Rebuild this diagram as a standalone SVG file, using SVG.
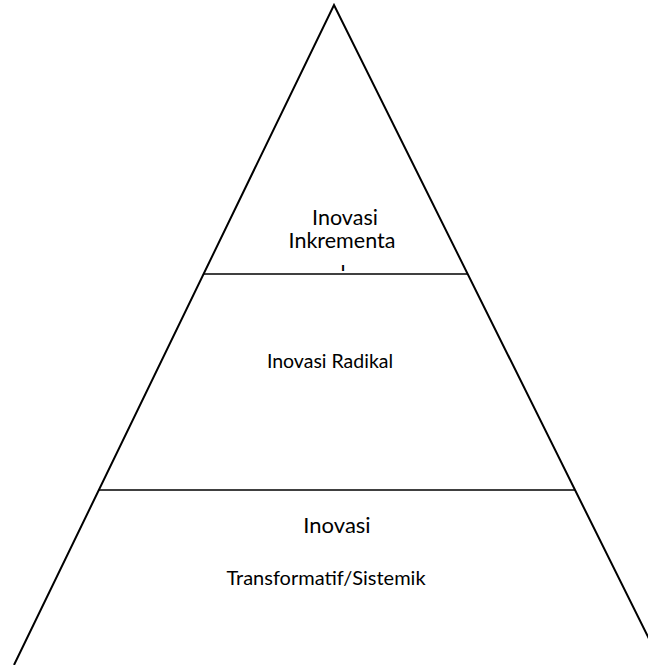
<svg xmlns="http://www.w3.org/2000/svg" width="648" height="665" viewBox="0 0 648 665">
<defs>
<style>
.edge{stroke:#000;fill:none;stroke-width:2}
.div{stroke:#000;stroke-width:1.5}
.t{font-family:Lato,"Open Sans","Liberation Sans",sans-serif;fill:#000;text-anchor:middle}
</style>
<clipPath id="clipL"><rect x="300" y="256" width="100" height="15"/></clipPath>
</defs>
<rect width="648" height="665" fill="#fff"/>
<g id="connectors">
<polyline class="edge" points="14,665 334,5 662,665"/>
<line class="div" x1="203.5" y1="274" x2="467.7" y2="274"/>
<line class="div" x1="98.8" y1="490" x2="575" y2="490"/>
</g>
<g id="node-inkremental">
<text class="t" x="345" y="225" font-size="21.5">Inovasi</text>
<text class="t" x="342" y="248" font-size="21.5">Inkrementa</text>
<text class="t" x="343" y="281" font-size="21.5" clip-path="url(#clipL)">l</text>
</g>
<g id="node-radikal">
<text class="t" x="330" y="368" font-size="19.5">Inovasi Radikal</text>
</g>
<g id="node-transformatif">
<text class="t" x="337" y="533" font-size="22">Inovasi</text>
<text class="t" x="326" y="585" font-size="20">Transformatif/Sistemik</text>
</g>
</svg>
